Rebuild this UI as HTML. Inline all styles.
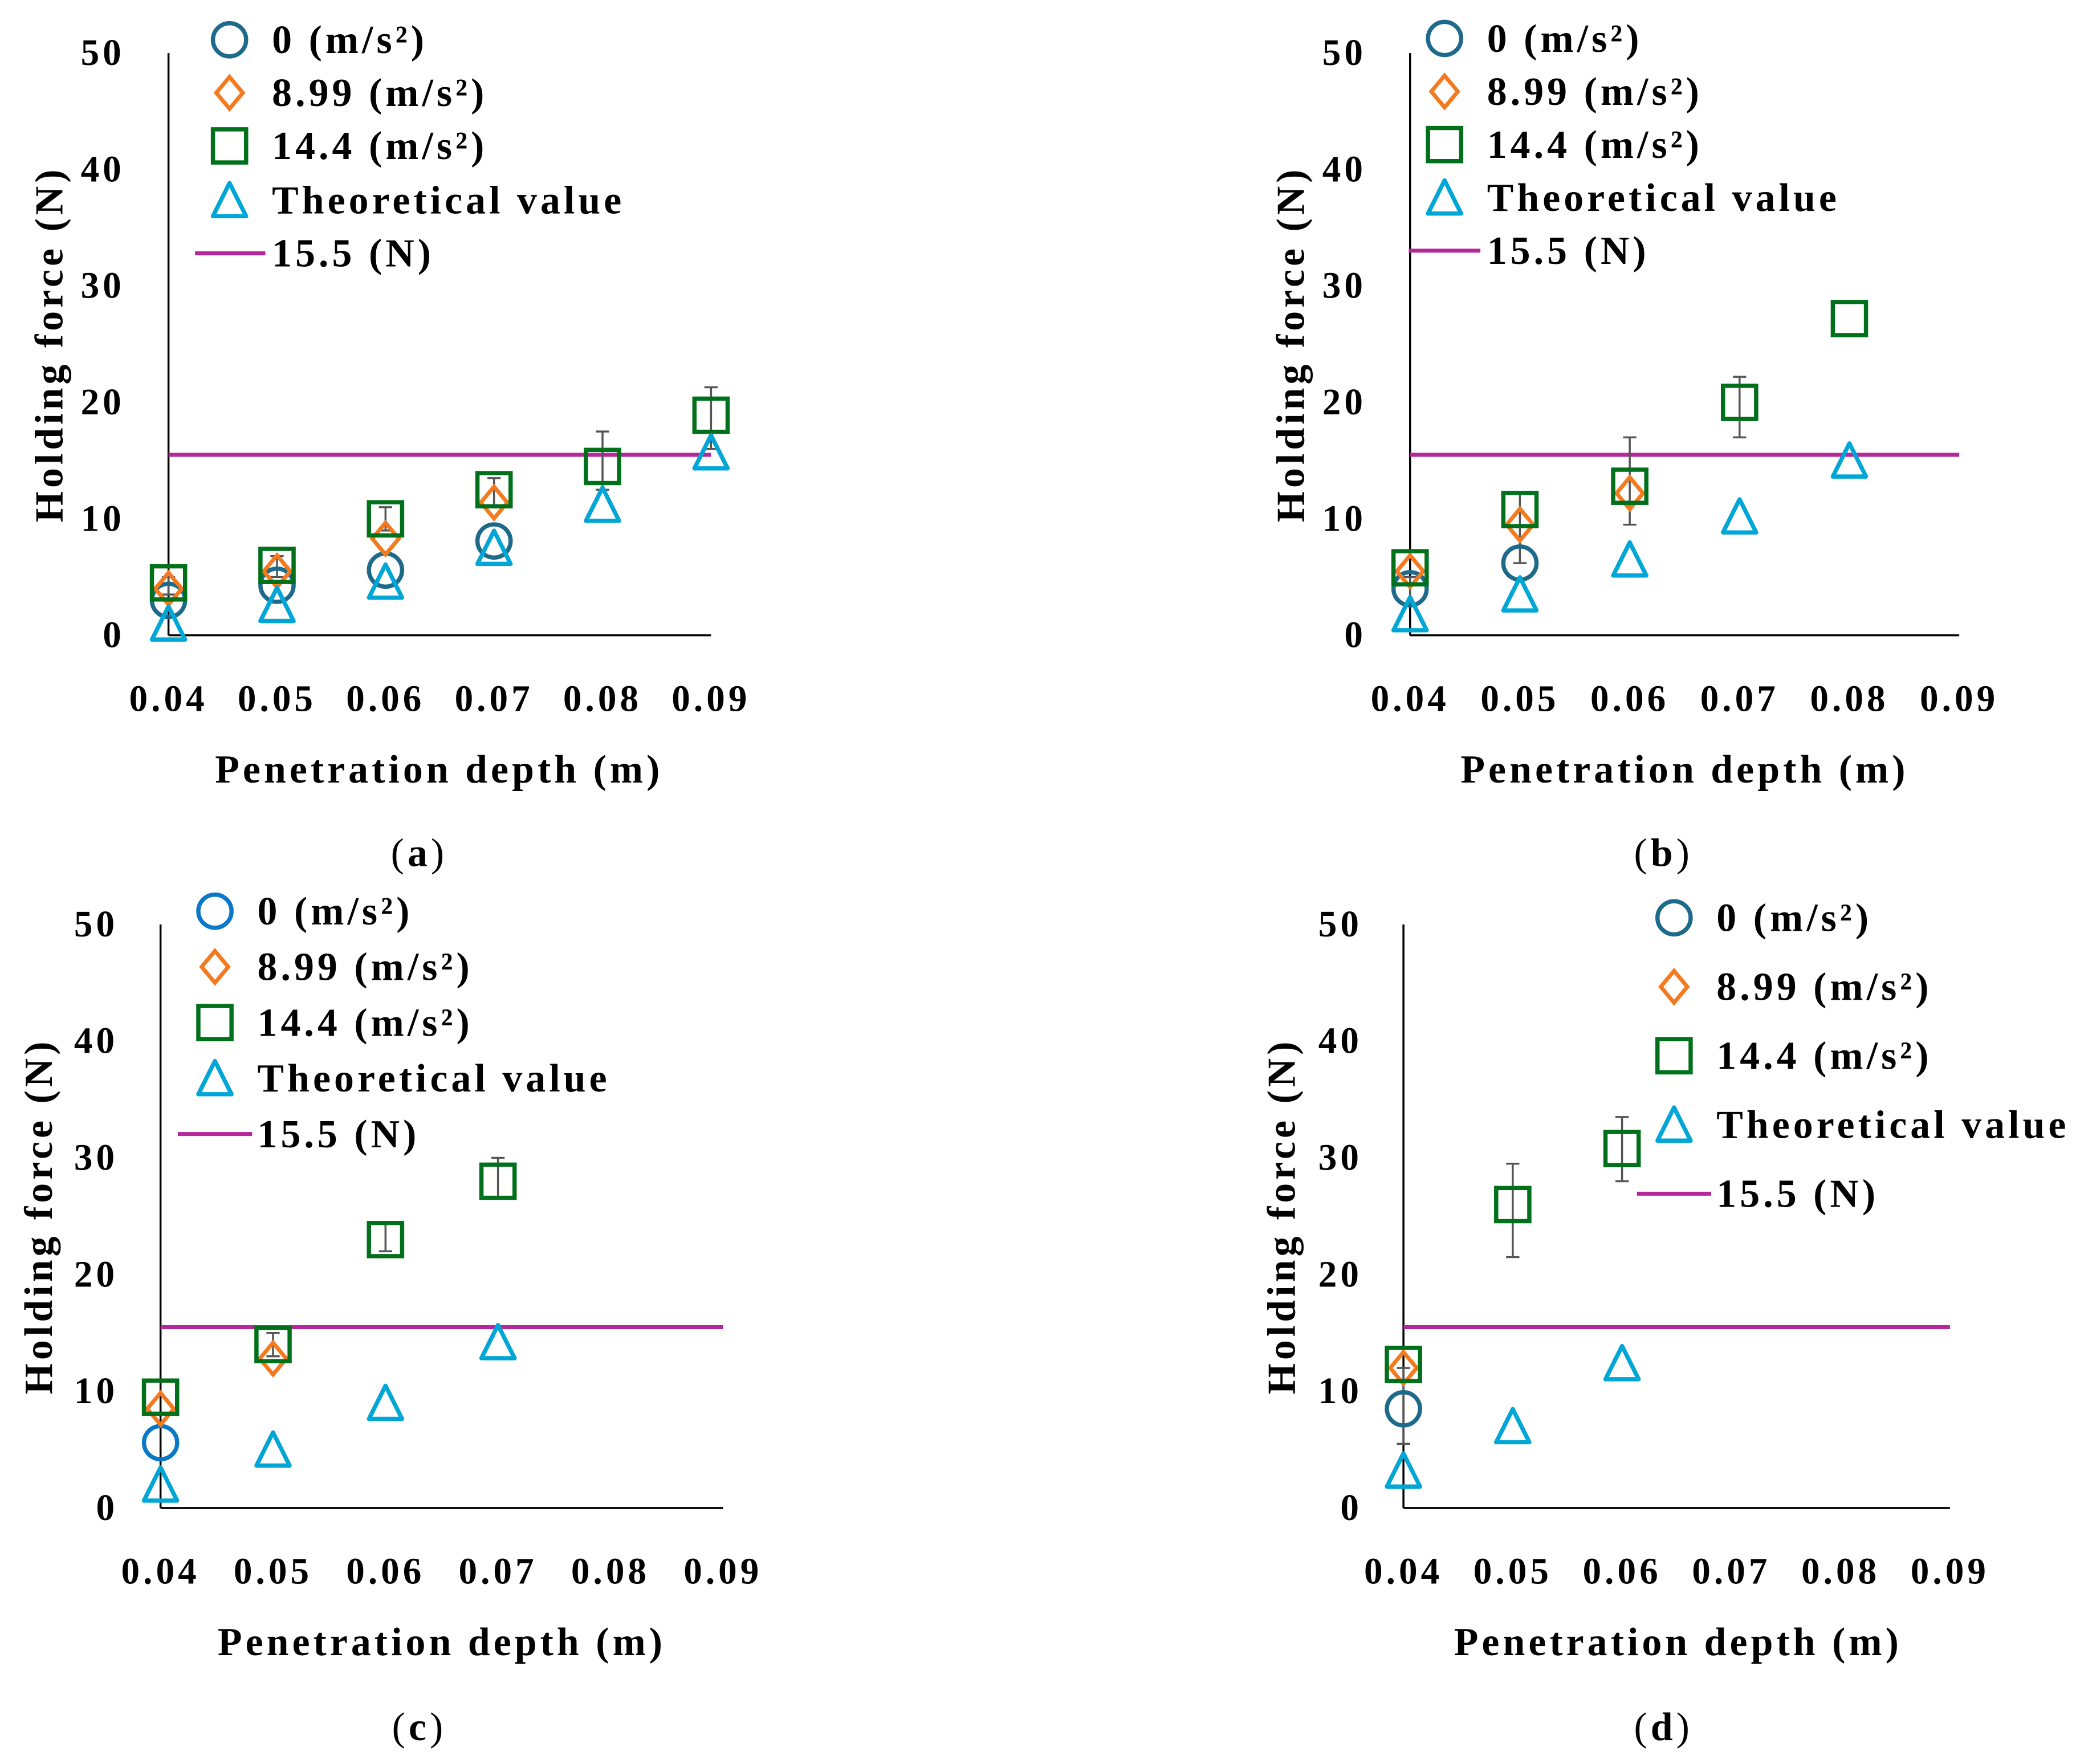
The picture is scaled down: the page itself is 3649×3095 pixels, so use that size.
<!DOCTYPE html>
<html><head><meta charset="utf-8"><style>
html,body{margin:0;padding:0;background:#fff;}
svg{display:block;}
text{font-family:"Liberation Serif",serif;font-weight:bold;fill:#000;letter-spacing:2.6px;}
</style></head><body>
<svg id="fig" width="3649" height="3095" viewBox="0 0 1568 1330" xmlns="http://www.w3.org/2000/svg"></svg>
<script>
const xTicks = ["0.04","0.05","0.06","0.07","0.08","0.09"];
const yTicks = [0,10,20,30,40,50];
const legendLabels = ["0 (m/s²)","8.99 (m/s²)","14.4 (m/s²)","Theoretical value","15.5 (N)"];
const thresholdValue = 15.5;

const a_s0 = [3,4.3,5.6,8.1];
const a_s899 = [4,5.5,8.3,11.4];
const a_s144 = [4.5,6,10,12.5,14.5,18.9];
const a_theo = [1,2.6,4.6,7.5,11.2,15.7];
const a_err = [[4,3.5,5],[5,5,6.8],[6,9,11],[7,11,13.5],[8,12.5,17.5],[9,16,21.3]];

const b_s0 = [4,6.2];
const b_s899 = [5.5,9.5,12.2];
const b_s144 = [5.8,10.8,12.8,20,27.2];
const b_theo = [1.8,3.5,6.5,10.2,15];
const b_err = [[4,2.5,5],[5,6.2,12.2],[6,9.5,17],[7,17,22.2]];

const c_s0 = [5.6];
const c_s899 = [8.5,12.8];
const c_s144 = [9.5,14,23,28];
const c_theo = [2,5,9,14.2];
const c_err = [[5,13,15],[6,22,24.5],[7,26.5,30]];

const d_s0 = [8.5];
const d_s899 = [12];
const d_s144 = [12.3,26,30.8];
const d_theo = [3.2,7,12.4];
const d_err = [[4,5.5,12],[5,21.5,29.5],[6,28,33.5]];

const panels = [
 {id:"a",x0:127,x1:536,y0:479,y1:40,lab:94,legX:173,legY:[30,70,110,151,191],line:[147,200],ytx:37,xtc:331,cap:[316,643],c0:"#1d6a8a",s0:a_s0,s899:a_s899,s144:a_s144,th:a_theo,err:a_err},
 {id:"b",x0:1063,x1:1477,y0:479,y1:40,lab:1030,legX:1089,legY:[29,69,109,149,189],line:[1062,1116],ytx:973,xtc:1270,cap:[1254,643],c0:"#1d6a8a",s0:b_s0,s899:b_s899,s144:b_s144,th:b_theo,err:b_err},
 {id:"c",x0:121,x1:545,y0:1137,y1:697,lab:89,legX:162,legY:[687,729,771,813,855],line:[134,190],ytx:29,xtc:333,cap:[316,1302],c0:"#0a78c8",s0:c_s0,s899:c_s899,s144:c_s144,th:c_theo,err:c_err},
 {id:"d",x0:1058,x1:1470,y0:1137,y1:697,lab:1027,legX:1262,legY:[692,744,796,848,900],line:[1234,1290],ytx:966,xtc:1265,cap:[1254,1302],c0:"#1d6a8a",s0:d_s0,s899:d_s899,s144:d_s144,th:d_theo,err:d_err}
];
const NS="http://www.w3.org/2000/svg";
const svg=document.getElementById("fig");
function mk(tag,attrs,parent){const e=document.createElementNS(NS,tag);for(const k in attrs)e.setAttribute(k,attrs[k]);(parent||svg).appendChild(e);return e;}
const ORANGE="#f47a20",GREEN="#00701a",CYAN="#00a6d6",MAG="#b5279a";
function circle(g,x,y,c){return mk("circle",{cx:x,cy:y,r:12.5,fill:"none",stroke:c,"stroke-width":3.2},g);}
function diamond(g,x,y){return mk("polygon",{points:`${x},${y-12} ${x+10},${y} ${x},${y+12} ${x-10},${y}`,fill:"none",stroke:ORANGE,"stroke-width":3},g);}
function square(g,x,y){return mk("rect",{x:x-12.5,y:y-12.5,width:25,height:25,fill:"none",stroke:GREEN,"stroke-width":3.2},g);}
function tri(g,x,y){return mk("polygon",{points:`${x},${y-13} ${x+12.5},${y+12} ${x-12.5},${y+12}`,fill:"none",stroke:CYAN,"stroke-width":3.2,"stroke-linejoin":"round"},g);}
panels.forEach(p=>{
  const g=mk("g",{});
  
  
  const sx=v=>p.x0+(v-0.04)/0.05*(p.x1-p.x0);
  const sxi=i=>p.x0+i*(p.x1-p.x0)/5;
  const sy=v=>p.y0+(v/50)*(p.y1-p.y0);
  const ya=mk("line",{x1:p.x0,y1:p.y1,x2:p.x0,y2:p.y0,stroke:"#000","stroke-width":1.5},g);
  
  const xa=mk("line",{x1:p.x0,y1:p.y0,x2:p.x1,y2:p.y0,stroke:"#000","stroke-width":1.5},g);
  
  yTicks.forEach(v=>{const t=mk("text",{x:p.lab,y:sy(v)+9,"text-anchor":"end","font-size":28},g);t.textContent=v;
    });
  xTicks.forEach((s,i)=>{const t=mk("text",{x:sxi(i),y:p.y0+57,"text-anchor":"middle","font-size":28},g);t.textContent=s;
    });
  const xt=mk("text",{x:p.xtc,y:p.y0+111,"text-anchor":"middle","font-size":30},g);xt.textContent="Penetration depth (m)";
  
  const cy=(p.y0+p.y1)/2;
  const yt=mk("text",{x:p.ytx+10,y:cy,"text-anchor":"middle","font-size":30,transform:`rotate(-90 ${p.ytx+10} ${cy})`},g);yt.textContent="Holding force (N)";
  
  const cap=mk("text",{x:p.cap[0],y:p.cap[1]+10,"text-anchor":"middle","font-size":30,style:"font-weight:normal"},g);
  cap.innerHTML=`(<tspan style="font-weight:bold">${p.id}</tspan>)`;
  
  const th=mk("line",{x1:p.x0,y1:sy(thresholdValue),x2:p.x1,y2:sy(thresholdValue),stroke:MAG,"stroke-width":3},g);
  
  p.err.forEach(e=>{const x=sx(e[0]/100);
    const l=mk("path",{d:`M${x},${sy(e[1])}V${sy(e[2])}M${x-5},${sy(e[1])}h10M${x-5},${sy(e[2])}h10`,stroke:"#555","stroke-width":1.5,fill:"none"},g);
    });
  p.s0.forEach((v,i)=>{const m=circle(g,sxi(i),sy(v),p.c0);});
  p.s899.forEach((v,i)=>{const m=diamond(g,sxi(i),sy(v));});
  p.s144.forEach((v,i)=>{const m=square(g,sxi(i),sy(v));});
  p.th.forEach((v,i)=>{const m=tri(g,sxi(i),sy(v));});
  const lg=mk("g",{},g);
  
  const makers=[(x,y)=>circle(lg,x,y,p.c0),(x,y)=>diamond(lg,x,y),(x,y)=>square(lg,x,y),(x,y)=>tri(lg,x,y)];
  legendLabels.forEach((s,i)=>{const y=p.legY[i];
    if(i<4){const m=makers[i](p.legX,y);}
    else{const m=mk("line",{x1:p.line[0],y1:y,x2:p.line[1],y2:y,stroke:MAG,"stroke-width":3},lg);}
    const t=mk("text",{x:p.legX+32,y:y+10,"font-size":30},lg);t.textContent=s;
    });
});
</script>
</body></html>
